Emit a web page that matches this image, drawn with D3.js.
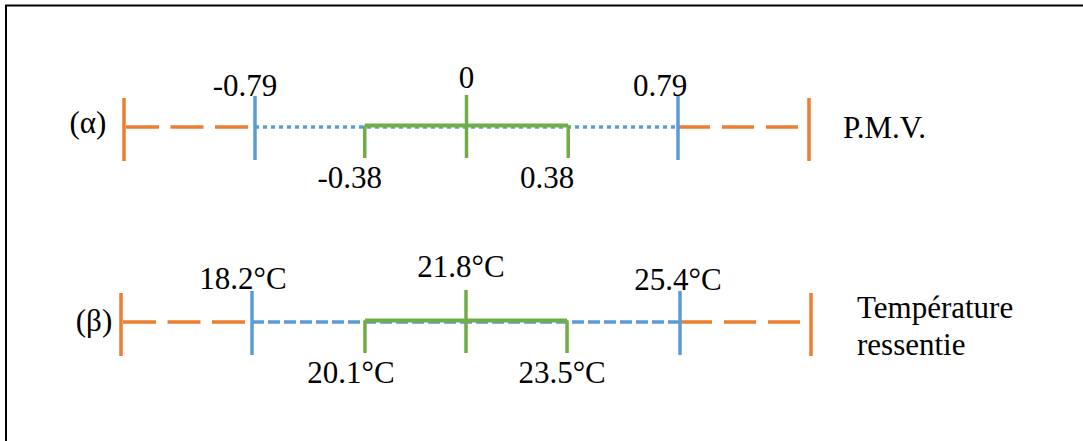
<!DOCTYPE html>
<meta charset="utf-8">
<style>
body { margin: 0; background: #fff; }
</style>
<svg id="chart" width="1083" height="441"></svg>
<script src="https://d3js.org/d3.v7.min.js"></script>
<script>

// values: blue low, green low, green centre, green high, blue high
var rowNames = ["(α)", "(β)"];
var pmvValues = [-0.79, -0.38, 0, 0.38, 0.79];
var pmvLabels = ["-0.79", "-0.38", "0", "0.38", "0.79"];
var tempValues = [18.2, 20.1, 21.8, 23.5, 25.4];
var tempLabels = ["18.2°C", "20.1°C", "21.8°C", "23.5°C", "25.4°C"];
var pmvTitle = ["P.M.V."];
var tempTitle = ["Température", "ressentie"];

var orange = "#ED7D31", blue = "#5B9BD5", green = "#70AD47";
var serif = "'Liberation Serif', 'Times New Roman', serif";

var svg = d3.select("#chart");

// frame
svg.append("path")
    .attr("d", "M6,441V5.5H1083")
    .attr("fill", "none")
    .attr("stroke", "#000")
    .attr("stroke-width", 2);

var rows = [
  { name: rowNames[0], values: pmvValues, labels: pmvLabels, title: pmvTitle,
    x: d3.scaleLinear().domain([pmvValues[0], pmvValues[4]]).range([255, 678]),
    y: 127, blueDash: "4,4", nameX: 88, nameY: 133,
    topDy: [-31, -39, -31], topDx: [-10, 0, -18], botDx: [-15, -21],
    titleX: 843, titleY: 138 },
  { name: rowNames[1], values: tempValues, labels: tempLabels, title: tempTitle,
    x: d3.scaleLinear().domain([tempValues[0], tempValues[4]]).range([252, 680]),
    y: 322, blueDash: "12,4", nameX: 94, nameY: 331,
    topDy: [-33, -45, -32], topDx: [-9, -5, -2], botDx: [-14, -5],
    titleX: 857, titleY: 318 }
];

var outerGap = 131;

function label(g, x, y, t, anchor) {
  return g.append("text")
      .attr("x", x).attr("y", y)
      .attr("text-anchor", anchor || "middle")
      .attr("font-size", 31)
      .style("font-family", serif)
      .attr("fill", "#000")
      .text(t);
}

rows.forEach(function(r) {
  var g = svg.append("g");
  var v = r.values, x = r.x, y = r.y;
  var xl = x(v[0]) - outerGap, xr = x(v[4]) + outerGap;

  // orange dashed ends
  g.append("line")
      .attr("x1", xl + 2).attr("x2", x(v[0])).attr("y1", y).attr("y2", y)
      .attr("stroke", orange).attr("stroke-width", 3.5).attr("stroke-dasharray", "33,11.5");
  g.append("line")
      .attr("x1", x(v[4])).attr("x2", xr).attr("y1", y).attr("y2", y)
      .attr("stroke", orange).attr("stroke-width", 3.5).attr("stroke-dasharray", "32,12");

  // blue dotted / dashed middle
  g.append("line")
      .attr("x1", x(v[0])).attr("x2", x(v[4])).attr("y1", y).attr("y2", y)
      .attr("stroke", blue).attr("stroke-width", 3.5).attr("stroke-dasharray", r.blueDash);

  // green band
  var gy = y - 1.5;
  g.append("line")
      .attr("x1", x(v[1])).attr("x2", x(v[3])).attr("y1", gy).attr("y2", gy)
      .attr("stroke", green).attr("stroke-width", 4);
  [v[1], v[3]].forEach(function(d) {
    g.append("line")
        .attr("x1", x(d)).attr("x2", x(d)).attr("y1", gy).attr("y2", y + 31)
        .attr("stroke", green).attr("stroke-width", 3.5);
  });
  g.append("line")
      .attr("x1", x(v[2])).attr("x2", x(v[2])).attr("y1", y - 32).attr("y2", y + 31)
      .attr("stroke", green).attr("stroke-width", 3.5);

  // blue ticks
  [v[0], v[4]].forEach(function(d) {
    g.append("line")
        .attr("x1", x(d)).attr("x2", x(d)).attr("y1", y - 31).attr("y2", y + 33)
        .attr("stroke", blue).attr("stroke-width", 3.5);
  });

  // orange outer ticks
  [xl, xr].forEach(function(px) {
    g.append("line")
        .attr("x1", px).attr("x2", px).attr("y1", y - 29).attr("y2", y + 34)
        .attr("stroke", orange).attr("stroke-width", 3.5);
  });

  // labels above (blue low, centre, blue high)
  [0, 2, 4].forEach(function(idx, k) {
    label(g, x(v[idx]) + r.topDx[k], y + r.topDy[k], r.labels[idx]);
  });
  // labels below (green ends)
  [1, 3].forEach(function(idx, k) {
    label(g, x(v[idx]) + r.botDx[k], y + 61, r.labels[idx]);
  });

  label(g, r.nameX, r.nameY, r.name);

  r.title.forEach(function(t, i) {
    label(g, r.titleX, r.titleY + i * 37, t, "start");
  });
});

</script>
